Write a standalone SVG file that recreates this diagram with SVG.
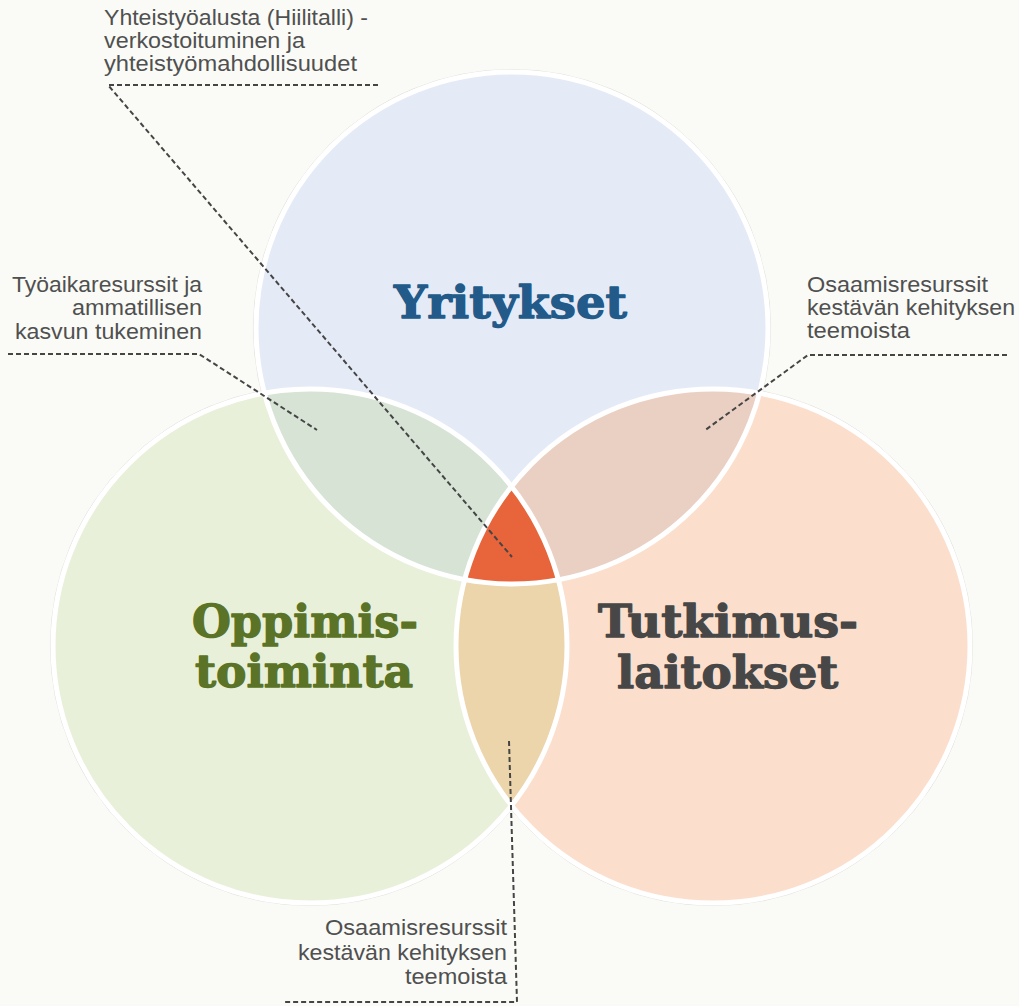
<svg xmlns="http://www.w3.org/2000/svg" width="1019" height="1006" viewBox="0 0 1019 1006">
  <defs>
    <clipPath id="clip-top"><circle cx="512" cy="328" r="256"/></clipPath>
    <clipPath id="clip-left"><circle cx="310" cy="646" r="257"/></clipPath>
    <style>
      .halo { fill: none; stroke: #d9dad5; stroke-width: 0.8; }
      .border { fill: none; stroke: #ffffff; stroke-width: 5; }
      .title { font-family: "DejaVu Serif", "Liberation Serif", serif; font-weight: bold; font-size: 44px; text-anchor: middle; stroke-width: 1.3; stroke-linejoin: round; }
      .note { font-family: "Liberation Sans", Arial, sans-serif; font-size: 22px; fill: #505050; }
      .end { text-anchor: end; }
      .leader { fill: none; stroke: #454545; stroke-width: 2; stroke-dasharray: 5 3; }
    </style>
  </defs>

  <rect width="1019" height="1006" fill="#fafbf7"/>

  <!-- thin grey rim just outside the white borders -->
  <g id="rims">
    <circle class="halo" cx="512" cy="328" r="258.6"/>
    <circle class="halo" cx="310" cy="646" r="259.6"/>
    <circle class="halo" cx="713" cy="646" r="259.6"/>
  </g>

  <g id="yritykset">
    <circle cx="512" cy="328" r="256" fill="#e5ebf6"/>
  </g>
  <g id="oppimistoiminta">
    <circle cx="310" cy="646" r="257" fill="#e9f0da"/>
  </g>
  <g id="tutkimuslaitokset">
    <circle cx="713" cy="646" r="257" fill="#fbdfcc"/>
  </g>

  <!-- overlap areas -->
  <g id="overlaps">
    <circle cx="310" cy="646" r="257" fill="#d6e3d5" clip-path="url(#clip-top)"/>
    <circle cx="713" cy="646" r="257" fill="#eacfc3" clip-path="url(#clip-top)"/>
    <circle cx="713" cy="646" r="257" fill="#ecd4ab" clip-path="url(#clip-left)"/>
    <g clip-path="url(#clip-top)">
      <circle cx="713" cy="646" r="257" fill="#e8643b" clip-path="url(#clip-left)"/>
    </g>
  </g>

  <g id="borders">
    <circle class="border" cx="512" cy="328" r="256"/>
    <circle class="border" cx="310" cy="646" r="257"/>
    <circle class="border" cx="713" cy="646" r="257"/>
  </g>

  <!-- circle titles -->
  <g id="titles">
    <text class="title" x="510.5" y="318" fill="#225a8a" stroke="#225a8a" textLength="233" lengthAdjust="spacingAndGlyphs">Yritykset</text>
    <text class="title" x="305" y="637" fill="#5a7326" stroke="#5a7326" textLength="226" lengthAdjust="spacingAndGlyphs">Oppimis-</text>
    <text class="title" x="304" y="687" fill="#5a7326" stroke="#5a7326" textLength="218" lengthAdjust="spacingAndGlyphs">toiminta</text>
    <text class="title" x="728" y="637" fill="#474747" stroke="#474747" textLength="260" lengthAdjust="spacingAndGlyphs">Tutkimus-</text>
    <text class="title" x="727.5" y="688" fill="#474747" stroke="#474747" textLength="221" lengthAdjust="spacingAndGlyphs">laitokset</text>
  </g>

  <g id="connectors">
    <polyline class="leader" points="378,85 108,85 512,557"/>
    <polyline class="leader" points="8,354 199,354 317,430"/>
    <polyline class="leader" points="1007,355 808,355 704,431"/>
    <polyline class="leader" points="509,741 517,1002 285,1002"/>
  </g>

  <g id="note-platform">
    <text class="note" x="104" y="25" textLength="264" lengthAdjust="spacingAndGlyphs">Yhteistyöalusta (Hiilitalli) -</text>
    <text class="note" x="104" y="48" textLength="201" lengthAdjust="spacingAndGlyphs">verkostoituminen ja</text>
    <text class="note" x="104" y="71" textLength="253" lengthAdjust="spacingAndGlyphs">yhteistyömahdollisuudet</text>
  </g>
  <g id="note-worktime">
    <text class="note end" x="202" y="292" textLength="190" lengthAdjust="spacingAndGlyphs">Työaikaresurssit ja</text>
    <text class="note end" x="202" y="315" textLength="130" lengthAdjust="spacingAndGlyphs">ammatillisen</text>
    <text class="note end" x="202" y="339" textLength="187" lengthAdjust="spacingAndGlyphs">kasvun tukeminen</text>
  </g>
  <g id="note-expertise-right">
    <text class="note" x="807" y="292" textLength="181" lengthAdjust="spacingAndGlyphs">Osaamisresurssit</text>
    <text class="note" x="807" y="315" textLength="208" lengthAdjust="spacingAndGlyphs">kestävän kehityksen</text>
    <text class="note" x="807" y="338" textLength="103" lengthAdjust="spacingAndGlyphs">teemoista</text>
  </g>
  <g id="note-expertise-bottom">
    <text class="note end" x="507" y="935" textLength="182" lengthAdjust="spacingAndGlyphs">Osaamisresurssit</text>
    <text class="note end" x="507" y="960" textLength="209" lengthAdjust="spacingAndGlyphs">kestävän kehityksen</text>
    <text class="note end" x="507" y="984" textLength="102" lengthAdjust="spacingAndGlyphs">teemoista</text>
  </g>
</svg>
